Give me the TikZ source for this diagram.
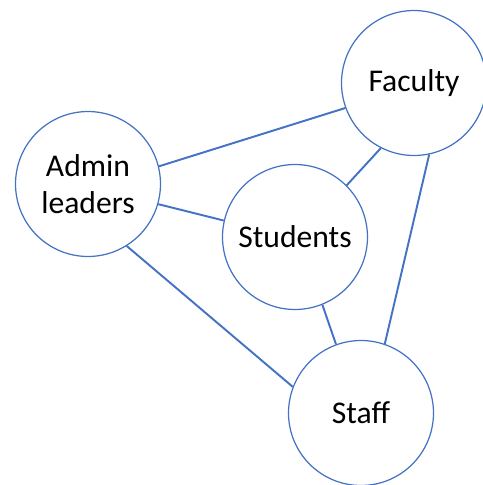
\documentclass[tikz,border=0pt]{standalone}
\usepackage{fontspec}
\setmainfont{Carlito}
\usetikzlibrary{positioning}
\definecolor{officeblue}{RGB}{68,114,196}
\newcommand{\groupsize}{2.9cm}
\tikzstyle{group} = [% stakeholder circle
  circle,
  minimum size=\groupsize,
  inner sep=0pt,
  align=center,
  text centered,
  draw=officeblue,
  line width=0.7pt,
  fill=white,
  font=\fontsize{18}{21}\selectfont
  ]
\tikzstyle{link} = [% connecting line
  draw=officeblue,
  line width=1.1pt
  ]

\begin{document}
\begin{tikzpicture}[x=0.02cm, y=-0.02cm]

\useasboundingbox (0,0) rectangle (483,485);

%%% Nodes
\node[group] (faculty) at (414,83) {Faculty};
\node[group] (admin) at (88,184) {Admin\\leaders};
\node[group] (students) at (295,237) {Students};
\node[group] (staff) at (361,413) {Staff};

%%% Links
\draw[link] (admin.14.8) -- (faculty.-160.2);
\draw[link] (admin.-16.5) -- (students.167.9);
\draw[link] (admin.-58.6) -- (staff.159.1);
\draw[link] (faculty.-117.3) -- (students.45);
\draw[link] (faculty.-78.2) -- (staff.71.1);
\draw[link] (students.-68.3) -- (staff.110.4);

\end{tikzpicture}
\end{document}
